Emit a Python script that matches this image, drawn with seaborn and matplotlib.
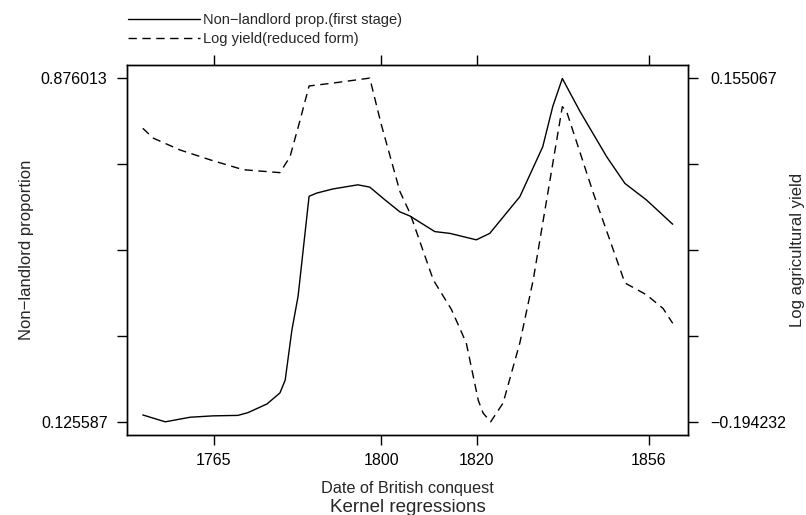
import numpy as np
import pandas as pd
import matplotlib
matplotlib.use("Agg")
from matplotlib.lines import Line2D
from matplotlib import pyplot as plt
import seaborn as sns

# data
year_prop = [1750.1, 1754.8, 1760.0, 1764.8, 1770.0, 1772.1, 1776.1, 1778.8, 1779.9,
             1781.3, 1782.6, 1784.9, 1786.5, 1789.9, 1795.1, 1797.6, 1800.8, 1803.9,
             1806.0, 1811.2, 1814.4, 1819.9, 1822.7, 1829.0, 1833.8, 1835.9, 1837.9,
             1841.6, 1847.2, 1851.0, 1855.5, 1861.0]
nonlandlord = [0.141, 0.126, 0.136, 0.139, 0.140, 0.146, 0.165, 0.189, 0.217,
               0.326, 0.400, 0.618, 0.625, 0.634, 0.643, 0.638, 0.610, 0.584,
               0.575, 0.541, 0.537, 0.523, 0.537, 0.617, 0.726, 0.814, 0.875,
               0.803, 0.704, 0.646, 0.610, 0.557]

year_yield = [1750.1, 1752.3, 1757.9, 1764.2, 1771.1, 1778.8, 1780.9, 1783.0, 1784.9,
              1790.0, 1797.6, 1800.0, 1803.9, 1806.0, 1810.9, 1814.7, 1817.8, 1820.3,
              1821.3, 1822.9, 1825.5, 1829.0, 1831.8, 1837.9, 1838.8, 1844.4, 1851.0,
              1855.5, 1859.0, 1861.0]
log_yield = [0.104, 0.094, 0.082, 0.072, 0.062, 0.059, 0.075, 0.112, 0.147,
             0.150, 0.155, 0.108, 0.040, 0.018, -0.050, -0.080, -0.114, -0.172,
             -0.185, -0.194, -0.175, -0.114, -0.050, 0.126, 0.121, 0.038, -0.053,
             -0.065, -0.079, -0.094]

left_ticks = [0.125587, 0.876013]
right_ticks = [-0.194232, 0.155067]
x_ticks = [1765, 1800, 1820, 1856]

sns.set_style("ticks")
plt.rcParams['font.family'] = ['Liberation Sans', 'DejaVu Sans']

fig = plt.figure(figsize=(8.06, 5.15), dpi=100)
ax = fig.add_axes([0.1576, 0.1553, 0.696, 0.7185])
ax2 = ax.twinx()

df1 = pd.DataFrame({"year": year_prop, "v": nonlandlord})
df2 = pd.DataFrame({"year": year_yield, "v": log_yield})
sns.lineplot(data=df1, x="year", y="v", ax=ax, color="black", linewidth=1.0)
sns.lineplot(data=df2, x="year", y="v", ax=ax2, color="black", linewidth=1.0,
             linestyle=(0, (6, 4)))

ax.set_xlim(1746.8, 1864.2)
ax.set_ylim(0.0972, 0.9044)
ax2.set_ylim(-0.2074, 0.1683)

# 5 evenly spaced ticks, only the ends labelled
lt = np.linspace(left_ticks[0], left_ticks[1], 5)
rt = np.linspace(right_ticks[0], right_ticks[1], 5)
ax.set_yticks(lt)
ax.set_yticklabels([f"{left_ticks[0]:.6f}", "", "", "", f"{left_ticks[1]:.6f}"])
ax2.set_yticks(rt)
ax2.set_yticklabels([f"{right_ticks[0]:.6f}".replace("-", "\u2212"), "", "", "",
                     f"{right_ticks[1]:.6f}"])
ax.set_xticks(x_ticks)
ax.set_xticklabels([str(t) for t in x_ticks])

for a in (ax, ax2):
    for s in a.spines.values():
        s.set_visible(True)
        s.set_linewidth(1.0)
        s.set_color("black")
ax.tick_params(axis="both", direction="out", length=7, width=1.0, labelsize=11.5,
               colors="black")
ax.tick_params(axis="x", top=True, pad=6)
ax.tick_params(axis="y", right=False, pad=7)
ax2.tick_params(axis="y", direction="out", length=7, width=1.0, labelsize=11.5,
                colors="black", pad=9)

ax.set_xlabel("Date of British conquest", fontsize=11.7, labelpad=9)
ax.set_ylabel("Non\u2212landlord proportion", fontsize=12, labelpad=5)
ax2.set_ylabel("Log agricultural yield", fontsize=12, labelpad=3)
fig.text(0.506, 0.0155, "Kernel regressions", ha="center", va="center", fontsize=13.5)

handles = [Line2D([], [], color="black", lw=1.0),
           Line2D([], [], color="black", lw=1.0, linestyle=(0, (6, 4)))]
fig.legend(handles, ["Non\u2212landlord prop.(first stage)", "Log yield(reduced form)"],
           loc="upper left", bbox_to_anchor=(0.142, 1.0), frameon=False,
           fontsize=10.5, handlelength=5.0, handletextpad=0.2, labelspacing=0.35)

fig.savefig("out.png", dpi=100)
